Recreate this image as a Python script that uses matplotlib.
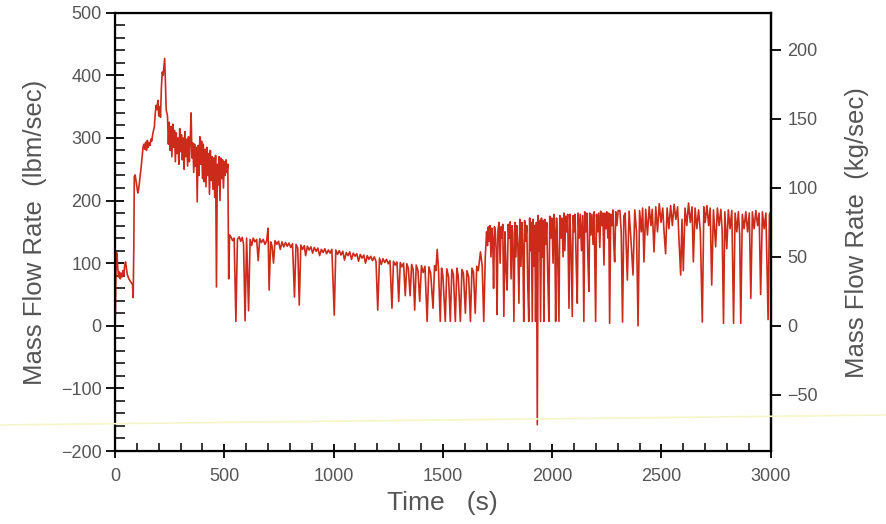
import matplotlib
matplotlib.use("Agg")
import matplotlib.pyplot as plt
from matplotlib import font_manager
from matplotlib.lines import Line2D
from matplotlib.ticker import MultipleLocator
import numpy as np

# Mass flow rate (lbm/sec), as (time s, value) pairs per phase
start = [(0, 2), (2, 30), (4, 85), (7, 117), (10, 108), (13, 90), (16, 78), (20, 86), (24, 75),
         (28, 84), (32, 78), (36, 88), (40, 80), (44, 96), (48, 102), (52, 92), (56, 82), (62, 76),
         (68, 72), (74, 69), (80, 66), (83, 45), (86, 130), (88, 238)]

climb = [(92, 241), (96, 232), (100, 222), (104, 212), (108, 218), (112, 230), (116, 242),
         (120, 255), (124, 270), (128, 285), (132, 290), (136, 282), (140, 293), (144, 280),
         (148, 296), (152, 285), (156, 292), (160, 288), (164, 298), (168, 295), (172, 305),
         (176, 312), (180, 318), (184, 340), (188, 352), (192, 345), (196, 360), (200, 335),
         (204, 350), (208, 333), (212, 380), (216, 405), (220, 400), (224, 415), (227, 427),
         (230, 395), (234, 345)]

decay = [(240, 335), (244, 290), (248, 325), (252, 280), (256, 318), (260, 270), (264, 322),
         (268, 285), (272, 312), (276, 262), (280, 308), (284, 275), (288, 300), (292, 258),
         (296, 315), (300, 278), (304, 305), (308, 265), (312, 300), (316, 250), (320, 310),
         (324, 270), (328, 298), (332, 255), (336, 302), (340, 262), (344, 295), (348, 340),
         (352, 268), (356, 292), (360, 245), (364, 290), (368, 255), (372, 285), (376, 198),
         (380, 288), (384, 240), (388, 302), (392, 258), (396, 295), (400, 235), (404, 290),
         (408, 230), (412, 282), (416, 222), (420, 285), (424, 240), (428, 275), (432, 210),
         (436, 280), (440, 232), (444, 270), (448, 218), (452, 268), (456, 205), (460, 272),
         (464, 62), (468, 258), (472, 225), (476, 270), (480, 200), (484, 268), (488, 235),
         (492, 265), (496, 220), (500, 262), (504, 240), (508, 265), (512, 245), (516, 258)]

plateau = [(520, 75), (524, 145), (530, 142), (538, 136), (545, 140), (553, 7), (560, 138),
           (568, 142), (575, 135), (582, 141), (588, 130), (595, 8), (602, 140), (611, 24),
           (618, 138), (625, 128), (632, 140), (640, 134), (648, 138), (655, 104), (662, 139),
           (670, 133), (678, 138), (686, 130), (694, 136), (700, 156), (705, 57), (712, 134),
           (718, 128), (725, 100), (732, 136), (740, 130), (748, 135), (756, 122), (764, 134),
           (772, 126), (780, 133), (788, 127), (796, 132), (804, 125), (812, 131), (821, 46),
           (828, 130), (836, 124), (843, 33), (850, 129), (858, 122), (866, 128), (872, 112),
           (880, 127), (888, 121), (896, 126), (904, 116), (912, 125), (920, 119), (928, 124),
           (936, 112), (944, 122), (952, 117), (960, 123), (968, 115), (976, 121), (984, 116),
           (992, 122), (1003, 17), (1010, 121), (1018, 114), (1026, 120), (1034, 113), (1042, 119),
           (1050, 105), (1058, 117), (1066, 112), (1074, 118), (1082, 106), (1090, 116), (1098, 111),
           (1106, 115), (1114, 103), (1122, 114), (1130, 108), (1138, 113), (1146, 100), (1154, 112),
           (1162, 106), (1170, 111), (1178, 104), (1186, 110), (1194, 103), (1202, 25), (1210, 108),
           (1218, 98), (1226, 107), (1234, 101), (1242, 106), (1250, 99), (1258, 104), (1267, 28),
           (1274, 103), (1282, 97), (1290, 102), (1298, 39), (1305, 101), (1312, 94), (1320, 100),
           (1328, 48), (1335, 99), (1342, 92), (1350, 48), (1357, 98), (1364, 90), (1371, 25),
           (1378, 97), (1386, 88), (1394, 39), (1402, 96), (1410, 85), (1418, 95), (1428, 7),
           (1436, 94), (1444, 84), (1455, 28), (1462, 96), (1468, 88), (1474, 122), (1480, 90),
           (1488, 7), (1494, 92), (1500, 80), (1511, 7), (1518, 91), (1526, 78), (1534, 7),
           (1541, 90), (1548, 82), (1557, 7), (1564, 92), (1570, 80), (1580, 7), (1587, 90),
           (1594, 84), (1603, 20), (1610, 88), (1618, 78), (1626, 7), (1633, 92), (1640, 86),
           (1648, 20), (1655, 95), (1662, 88), (1672, 118), (1680, 95), (1687, 7), (1694, 110)]

surge = [(1700, 150), (1704, 128), (1708, 158), (1712, 135), (1716, 160), (1720, 110), (1724, 156),
         (1728, 138), (1732, 60), (1736, 158), (1740, 150), (1744, 120), (1748, 18), (1752, 152),
         (1757, 165), (1762, 100), (1766, 158), (1770, 140), (1774, 162), (1779, 15), (1784, 150),
         (1789, 90), (1794, 57), (1799, 162), (1803, 140), (1808, 166), (1812, 75), (1816, 160),
         (1820, 148), (1825, 7), (1830, 165), (1834, 110), (1838, 160), (1843, 130), (1848, 36),
         (1852, 170), (1857, 95), (1862, 165), (1866, 120), (1870, 7), (1874, 168), (1879, 135),
         (1884, 160), (1888, 70), (1893, 7), (1897, 172), (1901, 120), (1905, 165), (1909, 7),
         (1913, 170), (1917, 95), (1921, 160), (1924, 7), (1928, 165), (1932, -158), (1936, 176),
         (1940, 120), (1943, 168), (1947, 7), (1951, 172), (1955, 110), (1959, 168), (1962, 7),
         (1966, 170), (1971, 130), (1975, 165), (1980, 80), (1985, 7), (1989, 175), (1994, 140),
         (1999, 172), (2004, 100), (2008, 178), (2012, 150), (2016, 7), (2020, 172), (2025, 120),
         (2031, 7), (2035, 176), (2040, 140), (2045, 172), (2050, 110), (2054, 180), (2058, 120),
         (2062, 175), (2066, 150), (2071, 178), (2077, 28), (2081, 178), (2086, 130), (2092, 15),
         (2096, 176), (2101, 150), (2105, 178), (2110, 100), (2115, 36), (2119, 180), (2124, 140),
         (2129, 178), (2134, 120), (2140, 176), (2145, 7), (2149, 182), (2154, 150), (2159, 180),
         (2163, 115), (2168, 55), (2172, 180), (2177, 145), (2182, 178), (2187, 130), (2192, 182),
         (2199, 7), (2203, 178), (2208, 150), (2213, 180), (2218, 125), (2222, 183), (2227, 160),
         (2232, 180), (2237, 97), (2241, 180), (2246, 155), (2250, 182), (2255, 140), (2259, 180),
         (2263, 4), (2268, 178), (2273, 160), (2278, 185), (2282, 130), (2286, 102), (2291, 182),
         (2296, 160), (2302, 184)]

steady = [(2310, 184), (2316, 150), (2322, 6), (2328, 175), (2334, 180), (2344, 73), (2352, 183),
          (2360, 140), (2370, 81), (2378, 185), (2386, 150), (2393, 0), (2400, 184), (2408, 150),
          (2414, 188), (2420, 102), (2428, 186), (2436, 145), (2444, 190), (2452, 160), (2458, 186),
          (2466, 118), (2474, 190), (2482, 150), (2490, 195), (2498, 165), (2506, 188), (2512, 150),
          (2519, 115), (2526, 188), (2534, 155), (2542, 192), (2550, 160), (2558, 194), (2566, 170),
          (2574, 190), (2580, 140), (2588, 81), (2594, 170), (2600, 88), (2608, 188), (2616, 160),
          (2624, 196), (2632, 165), (2640, 190), (2646, 102), (2654, 188), (2662, 155), (2670, 185),
          (2678, 150), (2687, 6), (2694, 190), (2700, 165), (2708, 192), (2716, 160), (2723, 188),
          (2730, 65), (2738, 185), (2748, 126), (2756, 188), (2764, 160), (2772, 186), (2778, 150),
          (2784, 4), (2790, 182), (2799, 123), (2806, 185), (2814, 155), (2822, 184), (2830, 4),
          (2837, 180), (2845, 150), (2852, 182), (2858, 145), (2863, 4), (2870, 178), (2878, 155),
          (2886, 182), (2894, 150), (2902, 180), (2909, 44), (2916, 182), (2924, 155), (2932, 184),
          (2940, 160), (2947, 180), (2954, 50), (2962, 182), (2970, 155), (2978, 180), (2988, 10),
          (2994, 178), (3000, 182)]

LBM_PER_KG = 2.2046

trace = start + climb + decay + plateau + surge + steady
time_s = np.array([p[0] for p in trace])
flow_lbm = np.array([p[1] for p in trace])

# Pick a narrow sans if it is there, the original lettering is condensed
available = {f.name for f in font_manager.fontManager.ttflist}
font = "Liberation Sans Narrow" if "Liberation Sans Narrow" in available else "Liberation Sans"
plt.rcParams["font.family"] = [font, "DejaVu Sans"]

text_color = "#555555"

fig = plt.figure(figsize=(8.87, 5.24), dpi=100)
ax = fig.add_axes([0.1297, 0.1393, 0.7392, 0.8365])

ax.plot(time_s, flow_lbm, color="#cc2a1a", lw=1.2)

ax.set_xlim(0, 3000)
ax.set_ylim(-200, 500)
ax.xaxis.set_major_locator(MultipleLocator(500))
ax.xaxis.set_minor_locator(MultipleLocator(100))
ax.yaxis.set_major_locator(MultipleLocator(100))
ax.yaxis.set_minor_locator(MultipleLocator(20))

ax.tick_params(axis="y", which="major", direction="inout", length=13, width=1.3,
               labelsize=13, labelcolor=text_color, pad=3)
ax.tick_params(axis="y", which="minor", direction="in", length=7, width=1.1)
ax.tick_params(axis="x", which="major", direction="inout", length=10, width=1.3,
               labelsize=13, labelcolor=text_color, pad=7)
ax.tick_params(axis="x", which="minor", direction="in", length=6, width=1.1)

for side in ["left", "right", "top", "bottom"]:
    ax.spines[side].set_linewidth(1.6)

# Right hand scale in kg/sec
ax2 = ax.twinx()
ax2.set_ylim(-200 / LBM_PER_KG, 500 / LBM_PER_KG)
ax2.yaxis.set_major_locator(MultipleLocator(50))
ax2.tick_params(axis="y", direction="out", length=7, width=1.3,
                labelsize=13, labelcolor=text_color, pad=5)
ax2.spines["right"].set_linewidth(1.6)

fig.text(35 / 887, 1 - 232 / 524, "Mass Flow Rate  (lbm/sec)", rotation=90,
         ha="center", va="center", fontsize=18.5, color=text_color)
fig.text(857 / 887, 1 - 233 / 524, "Mass Flow Rate  (kg/sec)", rotation=90,
         ha="center", va="center", fontsize=18.5, color=text_color)
fig.text(442 / 887, 1 - 503 / 524, "Time   (s)", ha="center", va="center",
         fontsize=19, color=text_color)

# faint scan streak across the original
fig.add_artist(Line2D([0, 1], [0.189, 0.208], color="#f6f6c8", lw=1.2))

fig.savefig("out.png", dpi=100)
